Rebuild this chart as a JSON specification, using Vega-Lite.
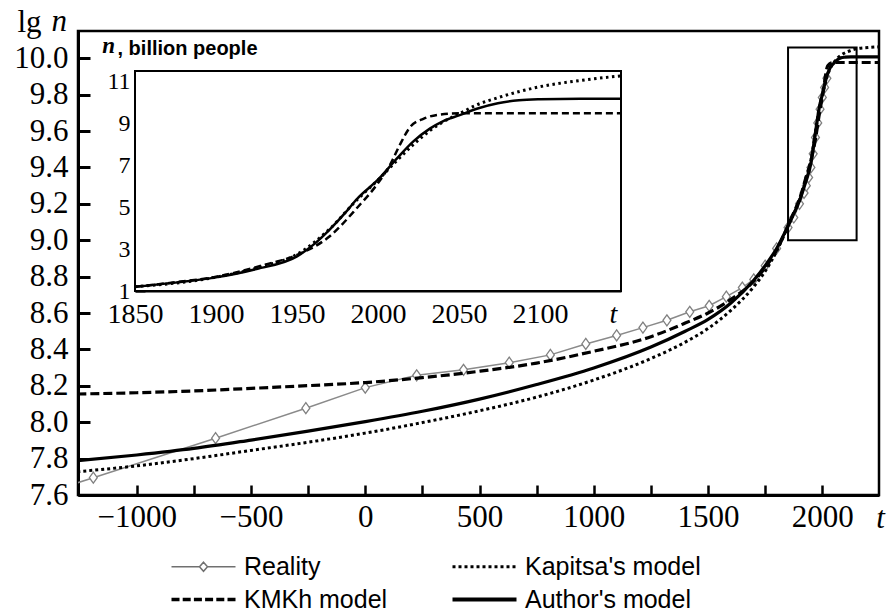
{
  "$schema": "https://vega.github.io/schema/vega-lite/v6.json",
  "width": 801,
  "height": 464,
  "autosize": {"type": "none"},
  "padding": {"left": 78, "top": 31, "right": 17, "bottom": 118},
  "background": "white",
  "datasets": {
    "reality": [
      {"t": -1600, "lg": 7.53}, {"t": -1190, "lg": 7.695}, {"t": -655, "lg": 7.912}, {"t": -260, "lg": 8.077},
      {"t": 0, "lg": 8.19}, {"t": 225, "lg": 8.258}, {"t": 430, "lg": 8.288}, {"t": 630, "lg": 8.327},
      {"t": 810, "lg": 8.37}, {"t": 965, "lg": 8.43}, {"t": 1100, "lg": 8.477}, {"t": 1215, "lg": 8.52},
      {"t": 1320, "lg": 8.56}, {"t": 1420, "lg": 8.607}, {"t": 1505, "lg": 8.64}, {"t": 1580, "lg": 8.69},
      {"t": 1650, "lg": 8.74}, {"t": 1700, "lg": 8.785}, {"t": 1750, "lg": 8.86}, {"t": 1800, "lg": 8.955},
      {"t": 1850, "lg": 9.07}, {"t": 1875, "lg": 9.125}, {"t": 1900, "lg": 9.2}, {"t": 1920, "lg": 9.26},
      {"t": 1930, "lg": 9.3}, {"t": 1940, "lg": 9.345}, {"t": 1950, "lg": 9.4}, {"t": 1960, "lg": 9.475},
      {"t": 1970, "lg": 9.565}, {"t": 1980, "lg": 9.645}, {"t": 1990, "lg": 9.72}, {"t": 2000, "lg": 9.785},
      {"t": 2010, "lg": 9.84}, {"t": 2020, "lg": 9.89}
    ],
    "kmkh": [
      {"t": -1260, "lg": 8.155}, {"t": -1000, "lg": 8.162}, {"t": -750, "lg": 8.172}, {"t": -500, "lg": 8.186},
      {"t": -250, "lg": 8.201}, {"t": 0, "lg": 8.218}, {"t": 250, "lg": 8.245}, {"t": 500, "lg": 8.28},
      {"t": 750, "lg": 8.325}, {"t": 1000, "lg": 8.39}, {"t": 1250, "lg": 8.47}, {"t": 1400, "lg": 8.545},
      {"t": 1500, "lg": 8.6}, {"t": 1600, "lg": 8.675}, {"t": 1700, "lg": 8.775}, {"t": 1750, "lg": 8.85},
      {"t": 1800, "lg": 8.945}, {"t": 1850, "lg": 9.079}, {"t": 1875, "lg": 9.152}, {"t": 1900, "lg": 9.225},
      {"t": 1930, "lg": 9.352}, {"t": 1950, "lg": 9.435}, {"t": 1970, "lg": 9.556}, {"t": 1987, "lg": 9.695},
      {"t": 2000, "lg": 9.789}, {"t": 2008, "lg": 9.851}, {"t": 2013, "lg": 9.898}, {"t": 2020, "lg": 9.946},
      {"t": 2028, "lg": 9.965}, {"t": 2038, "lg": 9.974}, {"t": 2050, "lg": 9.977}, {"t": 2150, "lg": 9.977},
      {"t": 2260, "lg": 9.977}
    ],
    "kapitsa": [
      {"t": -1260, "lg": 7.728}, {"t": -1000, "lg": 7.76}, {"t": -750, "lg": 7.8}, {"t": -500, "lg": 7.845},
      {"t": -250, "lg": 7.89}, {"t": 0, "lg": 7.94}, {"t": 250, "lg": 7.998}, {"t": 500, "lg": 8.063},
      {"t": 750, "lg": 8.138}, {"t": 1000, "lg": 8.232}, {"t": 1250, "lg": 8.35}, {"t": 1400, "lg": 8.44},
      {"t": 1500, "lg": 8.515}, {"t": 1600, "lg": 8.615}, {"t": 1700, "lg": 8.745}, {"t": 1750, "lg": 8.83},
      {"t": 1800, "lg": 8.94}, {"t": 1850, "lg": 9.079}, {"t": 1900, "lg": 9.22}, {"t": 1930, "lg": 9.342},
      {"t": 1950, "lg": 9.439}, {"t": 1970, "lg": 9.597}, {"t": 1987, "lg": 9.728}, {"t": 2000, "lg": 9.799},
      {"t": 2012, "lg": 9.86}, {"t": 2022, "lg": 9.903}, {"t": 2032, "lg": 9.937}, {"t": 2042, "lg": 9.962},
      {"t": 2050, "lg": 9.975}, {"t": 2060, "lg": 9.993}, {"t": 2075, "lg": 10.011}, {"t": 2100, "lg": 10.031},
      {"t": 2125, "lg": 10.043}, {"t": 2150, "lg": 10.052}, {"t": 2200, "lg": 10.059}, {"t": 2260, "lg": 10.064}
    ],
    "author": [
      {"t": -1260, "lg": 7.788}, {"t": -1000, "lg": 7.82}, {"t": -750, "lg": 7.856}, {"t": -500, "lg": 7.902},
      {"t": -250, "lg": 7.951}, {"t": 0, "lg": 8.003}, {"t": 250, "lg": 8.06}, {"t": 500, "lg": 8.127},
      {"t": 750, "lg": 8.207}, {"t": 1000, "lg": 8.298}, {"t": 1250, "lg": 8.413}, {"t": 1400, "lg": 8.5},
      {"t": 1500, "lg": 8.565}, {"t": 1600, "lg": 8.655}, {"t": 1700, "lg": 8.78}, {"t": 1750, "lg": 8.86},
      {"t": 1800, "lg": 8.955}, {"t": 1850, "lg": 9.079}, {"t": 1875, "lg": 9.146}, {"t": 1900, "lg": 9.217},
      {"t": 1925, "lg": 9.312}, {"t": 1950, "lg": 9.423}, {"t": 1960, "lg": 9.505}, {"t": 1970, "lg": 9.593},
      {"t": 1980, "lg": 9.677}, {"t": 1987, "lg": 9.732}, {"t": 2000, "lg": 9.8}, {"t": 2012, "lg": 9.866},
      {"t": 2022, "lg": 9.911}, {"t": 2032, "lg": 9.942}, {"t": 2040, "lg": 9.959}, {"t": 2050, "lg": 9.972},
      {"t": 2062, "lg": 9.988}, {"t": 2074, "lg": 9.998}, {"t": 2087, "lg": 10.004}, {"t": 2100, "lg": 10.006},
      {"t": 2125, "lg": 10.008}, {"t": 2150, "lg": 10.008}, {"t": 2260, "lg": 10.008}
    ],
    "inset_author": [
      {"year": 1850, "n": 1.2}, {"year": 1875, "n": 1.4}, {"year": 1900, "n": 1.65}, {"year": 1925, "n": 2.05},
      {"year": 1950, "n": 2.65}, {"year": 1960, "n": 3.2}, {"year": 1970, "n": 3.92}, {"year": 1980, "n": 4.75},
      {"year": 1987, "n": 5.39}, {"year": 2000, "n": 6.31}, {"year": 2012, "n": 7.35}, {"year": 2022, "n": 8.15},
      {"year": 2032, "n": 8.75}, {"year": 2040, "n": 9.1}, {"year": 2050, "n": 9.38}, {"year": 2062, "n": 9.72},
      {"year": 2074, "n": 9.96}, {"year": 2087, "n": 10.1}, {"year": 2100, "n": 10.15}, {"year": 2125, "n": 10.18},
      {"year": 2150, "n": 10.18}
    ],
    "inset_kmkh": [
      {"year": 1850, "n": 1.2}, {"year": 1875, "n": 1.42}, {"year": 1900, "n": 1.68}, {"year": 1930, "n": 2.25},
      {"year": 1950, "n": 2.72}, {"year": 1970, "n": 3.6}, {"year": 1987, "n": 4.96}, {"year": 2000, "n": 6.15},
      {"year": 2008, "n": 7.1}, {"year": 2013, "n": 7.9}, {"year": 2020, "n": 8.84}, {"year": 2028, "n": 9.22},
      {"year": 2038, "n": 9.42}, {"year": 2050, "n": 9.48}, {"year": 2150, "n": 9.48}
    ],
    "inset_kapitsa": [
      {"year": 1850, "n": 1.2}, {"year": 1900, "n": 1.66}, {"year": 1930, "n": 2.2}, {"year": 1950, "n": 2.75},
      {"year": 1970, "n": 3.95}, {"year": 1987, "n": 5.35}, {"year": 2000, "n": 6.3}, {"year": 2012, "n": 7.25},
      {"year": 2022, "n": 8.0}, {"year": 2032, "n": 8.65}, {"year": 2042, "n": 9.15}, {"year": 2050, "n": 9.45},
      {"year": 2060, "n": 9.85}, {"year": 2075, "n": 10.25}, {"year": 2100, "n": 10.75}, {"year": 2125, "n": 11.05},
      {"year": 2150, "n": 11.27}
    ],
    "legend_items": [
      {"model": "Reality"}, {"model": "KMKh model"}, {"model": "Kapitsa's model"}, {"model": "Author's model"}
    ],
    "label_n": [{"label": "n"}],
    "one": [{}]
  },
  "layer": [
    {
      "layer": [
        {
          "data": {"name": "reality"},
          "mark": {"type": "line", "color": "#8a8a8a", "strokeWidth": 1.5, "clip": true},
          "encoding": {
            "x": {
              "field": "t", "type": "quantitative",
              "scale": {"domain": [-1257, 2248], "nice": false, "zero": false},
              "axis": {
                "values": [-1000, -750, -500, -250, 0, 250, 500, 750, 1000, 1250, 1500, 1750, 2000],
                "tickCount": 30,
                "format": "d",
                "labelExpr": "datum.value % 500 === 0 ? datum.label : ''",
                "labelOverlap": {"expr": "false"},
                "tickSize": -10, "tickWidth": 2.5, "labelFontSize": 31, "labelPadding": 17,
                "domainWidth": 3,
                "title": "t", "titleFontStyle": "italic", "titleFontSize": 31,
                "titleX": 802, "titleY": 32, "titleAlign": "center", "titleBaseline": "alphabetic"
              }
            },
            "y": {
              "field": "lg", "type": "quantitative",
              "scale": {"domain": [7.6, 10.15], "nice": false, "zero": false},
              "axis": {
                "values": [7.6, 7.8, 8.0, 8.2, 8.4, 8.6, 8.8, 9.0, 9.2, 9.4, 9.6, 9.8, 10.0],
                "tickCount": 30,
                "format": ".1f",
                "labelOverlap": {"expr": "false"},
                "labelSeparation": 0,
                "tickSize": -12, "tickWidth": 3, "labelFontSize": 31, "labelPadding": 22,
                "domainWidth": 3,
                "title": "lg", "titleAngle": 0, "titleX": -37, "titleY": 0,
                "titleAlign": "right", "titleBaseline": "alphabetic", "titleFontSize": 31, "titleFontStyle": "normal"
              }
            }
          }
        },
        {
          "data": {"name": "reality"},
          "mark": {"type": "point", "shape": "M0,-1L0.72,0L0,1L-0.72,0Z", "size": 121, "filled": true, "fill": "white", "stroke": "#808080", "strokeWidth": 1.3, "opacity": 1, "clip": true},
          "encoding": {
            "x": {"field": "t", "type": "quantitative"},
            "y": {"field": "lg", "type": "quantitative"}
          }
        },
        {
          "data": {"name": "kmkh"},
          "mark": {"type": "line", "color": "black", "strokeWidth": 3.2, "strokeDash": [9, 4], "interpolate": "monotone", "clip": true},
          "encoding": {
            "x": {"field": "t", "type": "quantitative"},
            "y": {"field": "lg", "type": "quantitative"}
          }
        },
        {
          "data": {"name": "kapitsa"},
          "mark": {"type": "line", "color": "black", "strokeWidth": 3, "strokeDash": [3, 3], "interpolate": "monotone", "clip": true},
          "encoding": {
            "x": {"field": "t", "type": "quantitative"},
            "y": {"field": "lg", "type": "quantitative"}
          }
        },
        {
          "data": {"name": "author"},
          "mark": {"type": "line", "color": "black", "strokeWidth": 3.2, "interpolate": "monotone", "clip": true},
          "encoding": {
            "x": {"field": "t", "type": "quantitative"},
            "y": {"field": "lg", "type": "quantitative"}
          }
        },
        {
          "data": {"name": "one"},
          "mark": {"type": "rect", "fillOpacity": 0, "stroke": "black", "strokeWidth": 2},
          "encoding": {
            "x": {"datum": 1850, "type": "quantitative"},
            "x2": {"datum": 2150},
            "y": {"datum": 9.0, "type": "quantitative"},
            "y2": {"datum": 10.06}
          }
        },
        {
          "data": {"name": "label_n"},
          "mark": {"type": "text", "font": "Liberation Serif", "fontStyle": "italic", "fontSize": 31, "align": "right", "baseline": "alphabetic", "dx": -11, "dy": 0, "color": "black"},
          "encoding": {
            "x": {"datum": -1257, "type": "quantitative"},
            "y": {"datum": 10.15, "type": "quantitative"},
            "text": {"field": "label"}
          }
        },
        {
          "data": {"name": "legend_items"},
          "mark": {"type": "point", "filled": true, "opacity": 0, "strokeWidth": 1.5},
          "encoding": {
            "shape": {
              "field": "model", "type": "nominal",
              "scale": {
                "domain": ["Reality", "KMKh model", "Kapitsa's model", "Author's model"],
                "range": [
                  "M-1,0L4.6,0M6.2,0L11.8,0M5.4,-0.9L6.2,0L5.4,0.9L4.6,0Z",
                  "M-0.85,-0.2L0.45,-0.2L0.45,0.2L-0.85,0.2Z M1.39,-0.2L2.69,-0.2L2.69,0.2L1.39,0.2Z M3.63,-0.2L4.93,-0.2L4.93,0.2L3.63,0.2Z M5.87,-0.2L7.17,-0.2L7.17,0.2L5.87,0.2Z M8.11,-0.2L9.41,-0.2L9.41,0.2L8.11,0.2Z M10.35,-0.2L11.65,-0.2L11.65,0.2L10.35,0.2Z",
                  "M-0.85,-0.15L-0.55,-0.15L-0.55,0.15L-0.85,0.15Z M0.35,-0.15L0.65,-0.15L0.65,0.15L0.35,0.15Z M1.55,-0.15L1.85,-0.15L1.85,0.15L1.55,0.15Z M2.75,-0.15L3.05,-0.15L3.05,0.15L2.75,0.15Z M3.95,-0.15L4.25,-0.15L4.25,0.15L3.95,0.15Z M5.15,-0.15L5.45,-0.15L5.45,0.15L5.15,0.15Z M6.35,-0.15L6.65,-0.15L6.65,0.15L6.35,0.15Z M7.55,-0.15L7.85,-0.15L7.85,0.15L7.55,0.15Z M8.75,-0.15L9.05,-0.15L9.05,0.15L8.75,0.15Z M9.95,-0.15L10.25,-0.15L10.25,0.15L9.95,0.15Z M11.15,-0.15L11.45,-0.15L11.45,0.15L11.15,0.15Z",
                  "M-0.85,-0.25L11.65,-0.25L11.65,0.25L-0.85,0.25Z"
                ]
              },
              "legend": {"title": null, "orient": "none", "legendX": 86, "legendY": 523, "columns": 2, "columnPadding": 57, "rowPadding": 7, "symbolSize": 100, "symbolStrokeWidth": 1.5, "symbolOffset": 0, "labelOffset": 55, "labelFont": "Liberation Sans", "labelFontSize": 25, "labelColor": "black", "labelLimit": 500, "padding": 0, "symbolFillColor": "black", "symbolStrokeColor": "black", "symbolOpacity": 1}
            },
            "fill": {
              "field": "model", "type": "nominal",
              "scale": {"domain": ["Reality", "KMKh model", "Kapitsa's model", "Author's model"], "range": ["white", "black", "black", "black"]},
              "legend": {"title": null, "orient": "none", "legendX": 86, "legendY": 523, "columns": 2, "columnPadding": 57, "rowPadding": 7, "symbolSize": 100, "symbolStrokeWidth": 1.5, "symbolOffset": 0, "labelOffset": 55, "labelFont": "Liberation Sans", "labelFontSize": 25, "labelColor": "black", "labelLimit": 500, "padding": 0, "symbolFillColor": "black", "symbolStrokeColor": "black", "symbolOpacity": 1}
            },
            "stroke": {
              "field": "model", "type": "nominal",
              "scale": {"domain": ["Reality", "KMKh model", "Kapitsa's model", "Author's model"], "range": ["#707070", "black", "black", "black"]},
              "legend": {"title": null, "orient": "none", "legendX": 86, "legendY": 523, "columns": 2, "columnPadding": 57, "rowPadding": 7, "symbolSize": 100, "symbolStrokeWidth": 1.5, "symbolOffset": 0, "labelOffset": 55, "labelFont": "Liberation Sans", "labelFontSize": 25, "labelColor": "black", "labelLimit": 500, "padding": 0, "symbolFillColor": "black", "symbolStrokeColor": "black", "symbolOpacity": 1}
            }
          }
        }
      ]
    },
    {
      "layer": [
        {
          "data": {"name": "one"},
          "mark": {"type": "rect", "fill": "white", "stroke": "black", "strokeWidth": 2},
          "encoding": {
            "x": {
              "datum": 1850, "type": "quantitative",
              "scale": {"domain": [1850, 2150], "range": [57, 543], "nice": false, "zero": false},
              "axis": {
                "orient": "bottom", "offset": -204,
                "values": [1850, 1900, 1950, 2000, 2050, 2100], "format": "d",
                "tickCount": 30,
                "labelOverlap": {"expr": "false"},
                "tickSize": -9, "tickWidth": 2, "labelFontSize": 28, "labelPadding": 18, "domainWidth": 2,
                "title": "t", "titleFontStyle": "italic", "titleFontSize": 28,
                "titleX": 535, "titleY": 31, "titleAlign": "center", "titleBaseline": "alphabetic"
              }
            },
            "x2": {"datum": 2150},
            "y": {
              "datum": 1, "type": "quantitative",
              "scale": {"domain": [1, 11.5], "range": [260, 40], "nice": false, "zero": false},
              "axis": {
                "orient": "left", "offset": -57,
                "values": [1, 3, 5, 7, 9, 11], "format": "d",
                "tickCount": 30,
                "labelOverlap": {"expr": "false"},
                "tickSize": -10, "tickWidth": 2, "labelFontSize": 24, "labelPadding": 15, "domainWidth": 2,
                "title": ", billion people", "titleFont": "Liberation Sans", "titleFontWeight": "bold", "titleFontSize": 20,
                "titleAngle": 0, "titleX": -18, "titleY": 23, "titleAlign": "left", "titleBaseline": "alphabetic"
              }
            },
            "y2": {"datum": 11.5}
          }
        },
        {
          "data": {"name": "inset_kmkh"},
          "mark": {"type": "line", "color": "black", "strokeWidth": 2.5, "strokeDash": [7, 4], "interpolate": "monotone"},
          "encoding": {
            "x": {"field": "year", "type": "quantitative"},
            "y": {"field": "n", "type": "quantitative"}
          }
        },
        {
          "data": {"name": "inset_kapitsa"},
          "mark": {"type": "line", "color": "black", "strokeWidth": 3, "strokeDash": [2.5, 3.5], "interpolate": "monotone"},
          "encoding": {
            "x": {"field": "year", "type": "quantitative"},
            "y": {"field": "n", "type": "quantitative"}
          }
        },
        {
          "data": {"name": "inset_author"},
          "mark": {"type": "line", "color": "black", "strokeWidth": 2.5, "interpolate": "monotone"},
          "encoding": {
            "x": {"field": "year", "type": "quantitative"},
            "y": {"field": "n", "type": "quantitative"}
          }
        },
        {
          "data": {"name": "label_n"},
          "mark": {"type": "text", "font": "Liberation Serif", "fontStyle": "italic", "fontWeight": "bold", "fontSize": 23, "align": "right", "baseline": "alphabetic", "dx": -20, "dy": -18, "color": "black"},
          "encoding": {
            "x": {"datum": 1850, "type": "quantitative"},
            "y": {"datum": 11.5, "type": "quantitative"},
            "text": {"field": "label"}
          }
        }
      ]
    }
  ],
  "resolve": {"scale": {"x": "independent", "y": "independent"}, "axis": {"x": "independent", "y": "independent"}},
  "config": {
    "view": {"stroke": "black", "strokeWidth": 2.5},
    "axis": {
      "grid": false, "labelColor": "black", "tickColor": "black", "domainColor": "black", "titleColor": "black",
      "labelFont": "Liberation Serif", "titleFont": "Liberation Serif", "titleFontWeight": "normal",
      "zindex": 1, "labelFlush": false, "labelBound": false
    }
  }
}
